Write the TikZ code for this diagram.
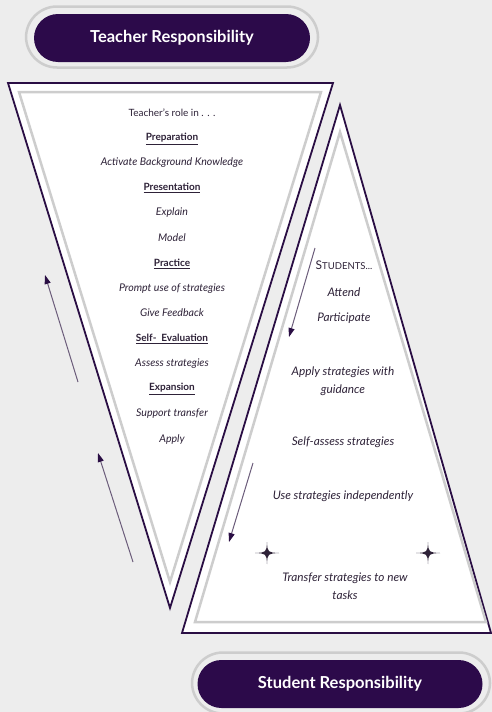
\documentclass[tikz,border=0pt]{standalone}
\usepackage{fontspec}
\setmainfont{Lato}
\usetikzlibrary{arrows.meta}
\usepackage{color}
\definecolor{Paper}{HTML}{EDEDED}
\definecolor{Plum}{HTML}{2C0A4A}
\definecolor{Edge}{HTML}{2A0E44}
\definecolor{Guide}{HTML}{CDCDCD}
\definecolor{Ink}{HTML}{2E2238}
\definecolor{Shaft}{HTML}{6B5C7A}

\begin{document}
\begin{tikzpicture}[x=1pt,y=-1pt,
    pill/.style={fill=Plum,rounded corners=24pt,text=white,font=\bfseries\fontsize{16.5}{19}\selectfont,minimum height=48pt},
    ring/.style={draw=Guide,line width=2.5pt,fill=Paper,rounded corners=31pt,minimum height=61pt},
    frame/.style={draw=Edge,line width=1.8pt,fill=white,line join=miter},
    guide/.style={draw=Guide,line width=2.5pt},
    role/.style={text=Ink,font=\itshape\fontsize{10.6}{12}\selectfont},
    stage/.style={text=Ink,font=\bfseries\fontsize{10}{12}\selectfont},
    task/.style={text=Ink,font=\itshape\fontsize{11.8}{18}\selectfont,align=center},
    cue/.style={draw=Shaft,line width=1pt,-{Triangle[length=9pt,width=6pt,color=Edge]}},
    sparkle/.pic={\fill[Ink] (-12,0) .. controls (-0.6,-0.6) .. (0,-11) .. controls (0.6,-0.6) .. (12,0) .. controls (0.6,0.6) .. (0,11) .. controls (-0.6,0.6) .. cycle;}]
        \fill[Paper] (0,0) rectangle (492,712);
        \useasboundingbox (0,0) rectangle (492,712);
        % banners
        \node[ring,minimum width=292pt] (teacherring) at (172,37) {};
        \node[pill,minimum width=276pt] (teacher) at (172,38) {Teacher Responsibility};
        \node[ring,minimum width=298pt] (studentring) at (341,683) {};
        \node[pill,minimum width=285pt] (student) at (340,684) {Student Responsibility};
        % the two triangles
        \draw[frame] (8,83) -- (333,83) -- (170,608) -- cycle;
        \draw[guide] (19,92) -- (321,92) -- (170,582) -- cycle;
        \draw[frame] (340,105) -- (491,633) -- (182,633) -- cycle;
        \draw[guide] (340,132) -- (486,622) -- (195,622) -- cycle;
        % teacher's role
        \node[text=Ink,font=\fontsize{10}{12}\selectfont] (rolein) at (172,113) {Teacher's role in . . .};
        \node[stage] (prep) at (172,139) {\underline{Preparation}};
        \node[role] (activate) at (172,163) {Activate Background Knowledge};
        \node[stage] (pres) at (172,188) {\underline{Presentation}};
        \node[role] (explain) at (172,213) {Explain};
        \node[role] (model) at (172,238) {Model};
        \node[stage] (prac) at (172,264) {\underline{Practice}};
        \node[role] (prompt) at (172,289) {Prompt use of strategies};
        \node[role] (feedback) at (172,313) {Give Feedback};
        \node[stage] (selfev) at (172,339) {\underline{Self-\ \ Evaluation}};
        \node[role] (assess) at (172,364) {Assess strategies};
        \node[stage] (expan) at (172,389) {\underline{Expansion}};
        \node[role] (support) at (172,414) {Support transfer};
        \node[role] (apply) at (172,439) {Apply};
        % students
        \node[text=Ink,font=\fontsize{12}{14}\selectfont] (students) at (344,265) {S{\fontsize{9.5}{11}\selectfont TUDENTS...}};
        \node[task] (attend) at (344,292) {Attend};
        \node[task] (particip) at (344,318) {Participate};
        \node[task] (guided) at (343,381) {Apply strategies with\\guidance};
        \node[task] (selfassess) at (343,442) {Self-assess strategies};
        \node[task] (indep) at (343,496) {Use strategies independently};
        \node[task] (transfer) at (345,586) {Transfer strategies to new\\tasks};
        \pic at (267,553) {sparkle};
        \pic at (428,553) {sparkle};
        % arrows
        \coordinate (upa) at (78,382);
        \coordinate (upb) at (45,275);
        \coordinate (upc) at (133,562);
        \coordinate (upd) at (98,453);
        \coordinate (downa) at (315,248);
        \coordinate (downb) at (289,337);
        \coordinate (downc) at (253,463);
        \coordinate (downd) at (229,542);
        \draw[cue] (upa) -- (upb);
        \draw[cue] (upc) -- (upd);
        \draw[cue] (downa) -- (downb);
        \draw[cue] (downc) -- (downd);
\end{tikzpicture}
\end{document}
